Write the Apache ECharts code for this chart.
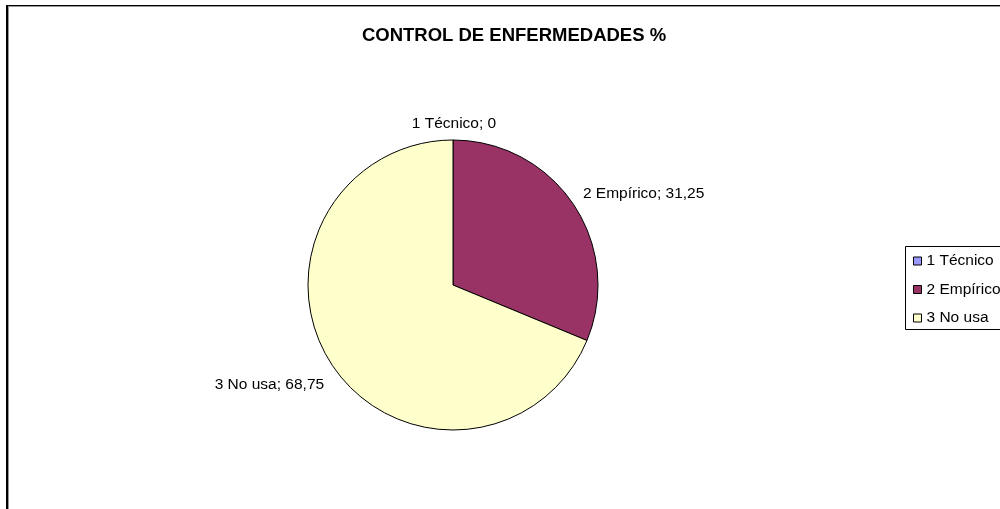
<!DOCTYPE html>
<html lang="es">
<head>
    <meta charset="UTF-8">
    <title>Control de enfermedades</title>
    <script src="https://cdn.jsdelivr.net/npm/echarts@6/dist/echarts.min.js"></script>
    <style>
        html, body { margin: 0; padding: 0; background: #fff; }
        #frame { position: absolute; left: 6px; top: 5px; width: 1010px; height: 520px;
                 border-left: 2px solid #000; border-top: 1px solid #000; box-shadow: inset 1px 1px 0 #999; }
        #chart { position: absolute; left: 0; top: 0; width: 1000px; height: 509px; }
    </style>
</head>
<body>
<div id="frame"></div>
<div id="chart"></div>
<script>
    var categories = ['1 Técnico', '2 Empírico', '3 No usa'];
    var values = [0, 31.25, 68.75];
    var colors = ['#9999FF', '#993366', '#FFFFCC'];

    // pequeños ajustes de las etiquetas (dx, dy) para imitar la colocación de Excel
    var labelNudge = [[6, -6], [-4, -5], [5, 14]];

    var myChart = echarts.init(document.getElementById('chart'));
    var option = {
        animation: false,
        title: {
            text: 'CONTROL DE ENFERMEDADES %',
            left: 509,
            textAlign: 'center',
            top: 21,
            textStyle: { fontFamily: 'Liberation Sans, Arial', fontSize: 18.5, fontWeight: 'bold', color: '#000' }
        },
        legend: {
            orient: 'vertical',
            left: 908,
            top: 248,
            itemWidth: 8,
            itemHeight: 8,
            itemGap: 12.5,
            icon: 'rect',
            itemStyle: { borderColor: '#000', borderWidth: 1 },
            textStyle: { fontFamily: 'Liberation Sans, Arial', fontSize: 15.5, lineHeight: 16, color: '#000', padding: 0 },
            data: categories
        },
        graphic: [{
            type: 'rect',
            left: 903, top: 244,
            shape: { width: 110, height: 83 },
            style: { fill: 'none', stroke: '#000', lineWidth: 1 },
            z: -1
        }],
        series: [{
            type: 'pie',
            center: [453, 285],
            radius: 145,
            startAngle: 90,
            clockwise: true,
            color: colors,
            itemStyle: { borderColor: '#000', borderWidth: 1 },
            label: {
                show: true,
                position: 'outside',
                fontFamily: 'Liberation Sans, Arial',
                fontSize: 15.5,
                color: '#000',
                formatter: function (p) {
                    return p.name + '; ' + String(p.value).replace('.', ',');
                }
            },
            labelLine: { show: false, length: 10, length2: 0 },
            labelLayout: function (params) {
                var n = labelNudge[params.dataIndex];
                var dx = n[0];
                if (params.dataIndex === 0) {
                    dx += params.labelRect.width / 2;
                }
                return { dx: dx, dy: n[1] };
            },
            emphasis: { disabled: true },
            data: categories.map(function (c, i) { return { name: c, value: values[i] }; })
        }]
    };
    myChart.setOption(option);
</script>
</body>
</html>
